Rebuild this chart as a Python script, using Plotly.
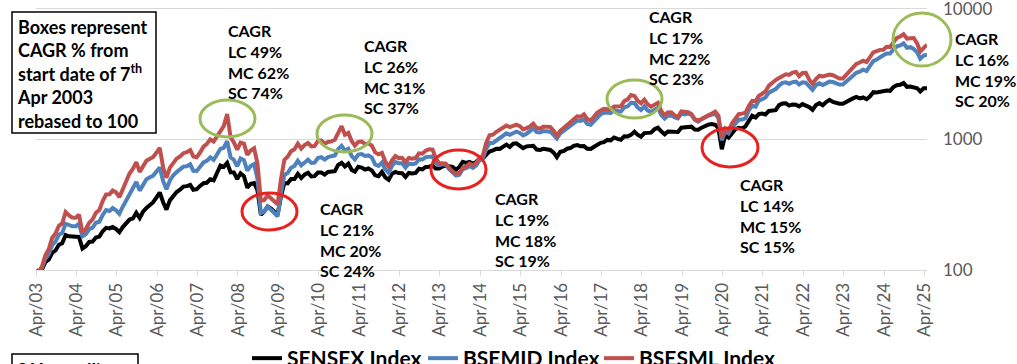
import pandas as pd
import plotly.graph_objects as go

# ---------------- data (rebased to 100 on 7 Apr 2003) ----------------
start_date = "2003-04-07"
month_ends = [d.strftime("%Y-%m-%d") for d in pd.date_range("2003-04-30", "2025-04-30", freq="ME")]
dates = [start_date] + month_ends

sensex = [100,
    94, 101, 115, 120, 135, 141, 156, 160, 185,
    181, 180, 177, 179, 146, 152, 164, 165, 177, 180, 198, 210,
    208, 213, 206, 195, 213, 228, 243, 248, 274, 250, 279, 298,
    315, 329, 358, 392, 330, 290, 341, 371, 395, 411, 435, 438,
    447, 411, 415, 440, 462, 465, 494, 486, 549, 630, 615, 660,
    560, 558, 497, 549, 521, 427, 456, 462, 408, 265, 280, 306,
    295, 280, 265, 362, 464, 460, 497, 497, 544, 505, 537, 554,
    519, 522, 557, 557, 538, 562, 567, 570, 637, 660, 620, 651,
    582, 566, 617, 608, 587, 598, 578, 530, 522, 562, 512, 490,
    546, 563, 552, 550, 515, 553, 547, 553, 596, 588, 614, 617,
    631, 599, 598, 619, 627, 616, 614, 585, 615, 672, 660, 672,
    651, 670, 711, 712, 769, 807, 822, 846, 845, 885, 911, 873,
    926, 932, 888, 857, 883, 882, 892, 834, 830, 846, 830, 829,
    790, 730, 804, 813, 847, 857, 890, 903, 885, 887, 846, 845,
    878, 912, 940, 950, 989, 982, 1032, 1007, 993, 1054, 1052, 1081,
    1142, 1085, 1047, 1116, 1121, 1124, 1194, 1227, 1150, 1093, 1149, 1145,
    1151, 1139, 1228, 1239, 1261, 1250, 1190, 1185, 1228, 1274, 1295, 1310,
    1293, 1216, 840, 1070, 1029, 1109, 1194, 1226, 1209, 1257, 1402, 1516,
    1470, 1559, 1572, 1549, 1649, 1666, 1670, 1827, 1877, 1883, 1811, 1849,
    1842, 1786, 1859, 1811, 1764, 1683, 1828, 1890, 1823, 1929, 2003, 1931,
    1890, 1872, 1873, 1940, 1988, 2055, 2112, 2058, 2090, 2028, 2127, 2293,
    2278, 2302, 2338, 2364, 2348, 2509, 2595, 2615, 2700, 2520, 2533, 2481,
    2460, 2324, 2457, 2460]

bsemid = [100,
    96, 104, 122, 132, 155, 165, 186, 192, 226,
    221, 216, 216, 226, 181, 188, 205, 211, 230, 234, 263, 288,
    283, 298, 286, 269, 305, 342, 384, 417, 471, 405, 452, 495,
    513, 526, 566, 608, 479, 415, 484, 531, 561, 584, 618, 622,
    644, 575, 573, 616, 665, 684, 726, 695, 758, 844, 861, 970,
    728, 698, 621, 714, 693, 576, 625, 647, 498, 273, 280, 306,
    289, 272, 257, 380, 534, 552, 606, 626, 685, 631, 671, 698,
    659, 663, 719, 730, 699, 731, 743, 752, 841, 891, 818, 846,
    745, 702, 765, 772, 745, 753, 728, 641, 626, 663, 589, 554,
    628, 670, 657, 655, 608, 653, 645, 653, 703, 700, 731, 740,
    738, 659, 634, 644, 640, 591, 553, 527, 535, 591, 601, 625,
    605, 630, 690, 712, 846, 936, 937, 981, 1006, 1053, 1111, 1083,
    1120, 1146, 1119, 1071, 1104, 1147, 1213, 1134, 1129, 1159, 1145, 1144,
    1082, 1015, 1110, 1163, 1228, 1286, 1353, 1391, 1381, 1419, 1311, 1293,
    1378, 1477, 1551, 1606, 1602, 1591, 1672, 1641, 1629, 1760, 1788, 1903,
    1896, 1758, 1675, 1786, 1659, 1619, 1695, 1742, 1541, 1443, 1517, 1523,
    1473, 1447, 1572, 1549, 1576, 1538, 1404, 1363, 1424, 1478, 1515, 1546,
    1565, 1459, 983, 1156, 1111, 1231, 1313, 1410, 1415, 1446, 1668, 1804,
    1779, 1980, 2028, 2091, 2276, 2366, 2422, 2576, 2703, 2730, 2662, 2737,
    2763, 2625, 2733, 2717, 2523, 2390, 2596, 2684, 2607, 2701, 2764, 2742,
    2684, 2621, 2622, 2755, 2922, 3103, 3231, 3293, 3407, 3326, 3637, 3967,
    4078, 4259, 4395, 4539, 4532, 4867, 5138, 5230, 5427, 5015, 5066, 4912,
    4625, 4137, 4373, 4450]

bsesml = [100,
    97, 106, 129, 144, 176, 190, 218, 227, 278,
    262, 252, 251, 265, 193, 205, 230, 244, 274, 288, 337, 378,
    379, 405, 393, 361, 415, 479, 547, 595, 669, 563, 628, 685,
    709, 730, 788, 862, 611, 508, 607, 668, 711, 740, 783, 797,
    827, 740, 730, 792, 878, 921, 998, 962, 1054, 1184, 1261, 1558,
    1036, 949, 835, 944, 927, 760, 821, 855, 653, 339, 342, 373,
    354, 330, 318, 489, 696, 736, 810, 840, 925, 848, 902, 936,
    882, 887, 969, 980, 925, 955, 964, 992, 1134, 1261, 1085, 1120,
    966, 894, 956, 961, 922, 927, 896, 795, 767, 787, 676, 617,
    693, 743, 718, 721, 670, 719, 711, 719, 781, 776, 817, 839,
    833, 719, 658, 656, 652, 604, 565, 550, 554, 605, 620, 652,
    631, 657, 718, 748, 938, 1073, 1085, 1142, 1183, 1212, 1275, 1240,
    1259, 1295, 1261, 1191, 1219, 1252, 1320, 1218, 1212, 1252, 1245, 1244,
    1161, 1066, 1158, 1220, 1304, 1371, 1442, 1499, 1487, 1552, 1430, 1394,
    1493, 1596, 1664, 1710, 1701, 1689, 1785, 1782, 1787, 1960, 2020, 2184,
    2147, 1975, 1885, 2009, 1850, 1776, 1839, 1902, 1645, 1530, 1609, 1603,
    1519, 1481, 1633, 1611, 1614, 1563, 1428, 1386, 1437, 1491, 1528, 1572,
    1629, 1520, 1025, 1209, 1163, 1320, 1433, 1557, 1572, 1596, 1795, 1971,
    1955, 2151, 2232, 2324, 2572, 2716, 2839, 2941, 3060, 3145, 3115, 3236,
    3279, 3036, 3216, 3224, 2858, 2659, 2888, 3062, 3026, 3086, 3125, 3090,
    3005, 2920, 2922, 3104, 3300, 3555, 3780, 3869, 3992, 3894, 4233, 4632,
    4738, 4834, 4840, 5106, 5095, 5570, 5969, 6119, 6372, 5897, 5978, 5954,
    5412, 4694, 5012, 5280]

series_names = ["SENSEX Index", "BSEMID Index", "BSESML Index"]
series_colors = ["#000000", "#4F81BD", "#C0504D"]

tick_dates = [f"{y}-04-07" for y in range(2003, 2026)]
tick_labels = [f"Apr/{y % 100:02d}" for y in range(2003, 2026)]
y_ticks = [100, 1000, 10000]

cagr_notes = [
    "CAGR<br>LC 49%<br>MC 62%<br>SC 74%",
    "CAGR<br>LC 26%<br>MC 31%<br>SC 37%",
    "CAGR<br>LC 21%<br>MC 20%<br>SC 24%",
    "CAGR<br>LC 19%<br>MC 18%<br>SC 19%",
    "CAGR<br>LC 17%<br>MC 22%<br>SC 23%",
    "CAGR<br>LC 14%<br>MC 15%<br>SC 15%",
    "CAGR<br>LC 16%<br>MC 19%<br>SC 20%",
]
box_text = "Boxes represent<br>CAGR % from<br>start date of 7<sup>th</sup><br>Apr 2003<br>rebased to 100"

# ---------------- layout helpers (window pixels -> paper) ----------------
W, H = 1017, 364
PL, PR, PT, PB = 36, 927, 6, 270


def px(p):
    return (p - PL) / (PR - PL)


def py(p):
    return (PB - p) / (PB - PT)


FONT = "Lato, 'Open Sans', Arial, sans-serif"

fig = go.Figure()
for name, vals, col in zip(series_names, [sensex, bsemid, bsesml], series_colors):
    fig.add_trace(go.Scatter(x=dates, y=vals, mode="lines", name=f"<b>{name}</b>",
                             line=dict(color=col, width=4)))

note_pos = [(226, 19), (362, 34), (318, 197), (493, 187), (647, 5), (738, 173), (953, 27)]
annotations = []
for txt, (xx, yy) in zip(cagr_notes, note_pos):
    annotations.append(dict(text=txt, x=px(xx), y=py(yy), xref="paper", yref="paper",
                            xanchor="left", yanchor="top", showarrow=False, align="left",
                            font=dict(family=FONT, size=16, color="black", weight="bold")))
annotations.append(dict(text=box_text, x=px(15), y=py(14), xref="paper", yref="paper",
                        xanchor="left", yanchor="top", showarrow=False, align="left",
                        font=dict(family=FONT, size=18, color="black", weight="bold")))
annotations.append(dict(text="3 Year rolling<br>returns", x=px(15), y=py(357), xref="paper", yref="paper",
                        xanchor="left", yanchor="top", showarrow=False, align="left",
                        font=dict(family=FONT, size=18, color="black", weight="bold")))

GREEN = "#9BBB59"
RED = "#E8211F"
ellipses = [
    ((200, 100, 255, 137), GREEN),
    ((317, 115, 372, 152), GREEN),
    ((607, 80, 662, 118), GREEN),
    ((893, 13, 951, 66), GREEN),
    ((242, 193, 297, 230), RED),
    ((431, 150, 486, 189), RED),
    ((702, 128, 758, 167), RED),
]
shapes = []
for (x0, y0, x1, y1), c in ellipses:
    shapes.append(dict(type="circle", xref="paper", yref="paper",
                       x0=px(x0), x1=px(x1), y0=py(y1), y1=py(y0),
                       line=dict(color=c, width=3)))
shapes.append(dict(type="rect", xref="paper", yref="paper", x0=px(12), x1=px(156),
                   y0=py(133), y1=py(12), line=dict(color="black", width=1.5)))
shapes.append(dict(type="rect", xref="paper", yref="paper", x0=px(12), x1=px(138),
                   y0=py(420), y1=py(354), line=dict(color="black", width=1.5)))

fig.update_layout(
    width=W, height=H,
    margin=dict(l=PL, r=W - PR, t=PT, b=H - PB, autoexpand=False),
    paper_bgcolor="white", plot_bgcolor="white",
    font=dict(family=FONT),
    showlegend=True,
    legend=dict(orientation="h", x=px(511), xanchor="center", y=py(338), yanchor="top",
                font=dict(family=FONT, size=21, color="black"), itemwidth=30,
                entrywidth=131, entrywidthmode="pixels",
                bgcolor="rgba(0,0,0,0)", traceorder="normal"),
    annotations=annotations,
    shapes=shapes,
)
fig.update_xaxes(type="date", range=[start_date, "2025-04-30"], automargin=False,
                 tickvals=tick_dates, ticktext=tick_labels, tickangle=-90,
                 tickfont=dict(family=FONT, size=17, color="#595959"),
                 showgrid=False, showline=True, linecolor="#D9D9D9", linewidth=1,
                 ticks="outside", ticklen=5, tickcolor="#D9D9D9", zeroline=False)
fig.update_yaxes(type="log", range=[2, 4.02], side="right", automargin=False,
                 tickvals=y_ticks, ticktext=[str(v) for v in y_ticks],
                 tickfont=dict(family=FONT, size=17, color="#595959"),
                 ticklabelstandoff=15, ticklabeloverflow="allow",
                 showgrid=True, gridcolor="#D9D9D9", gridwidth=1,
                 showline=False, ticks="", zeroline=False)

fig.write_html("out.html", config={"displayModeBar": False},
               post_script="document.body.style.margin='0px';")
